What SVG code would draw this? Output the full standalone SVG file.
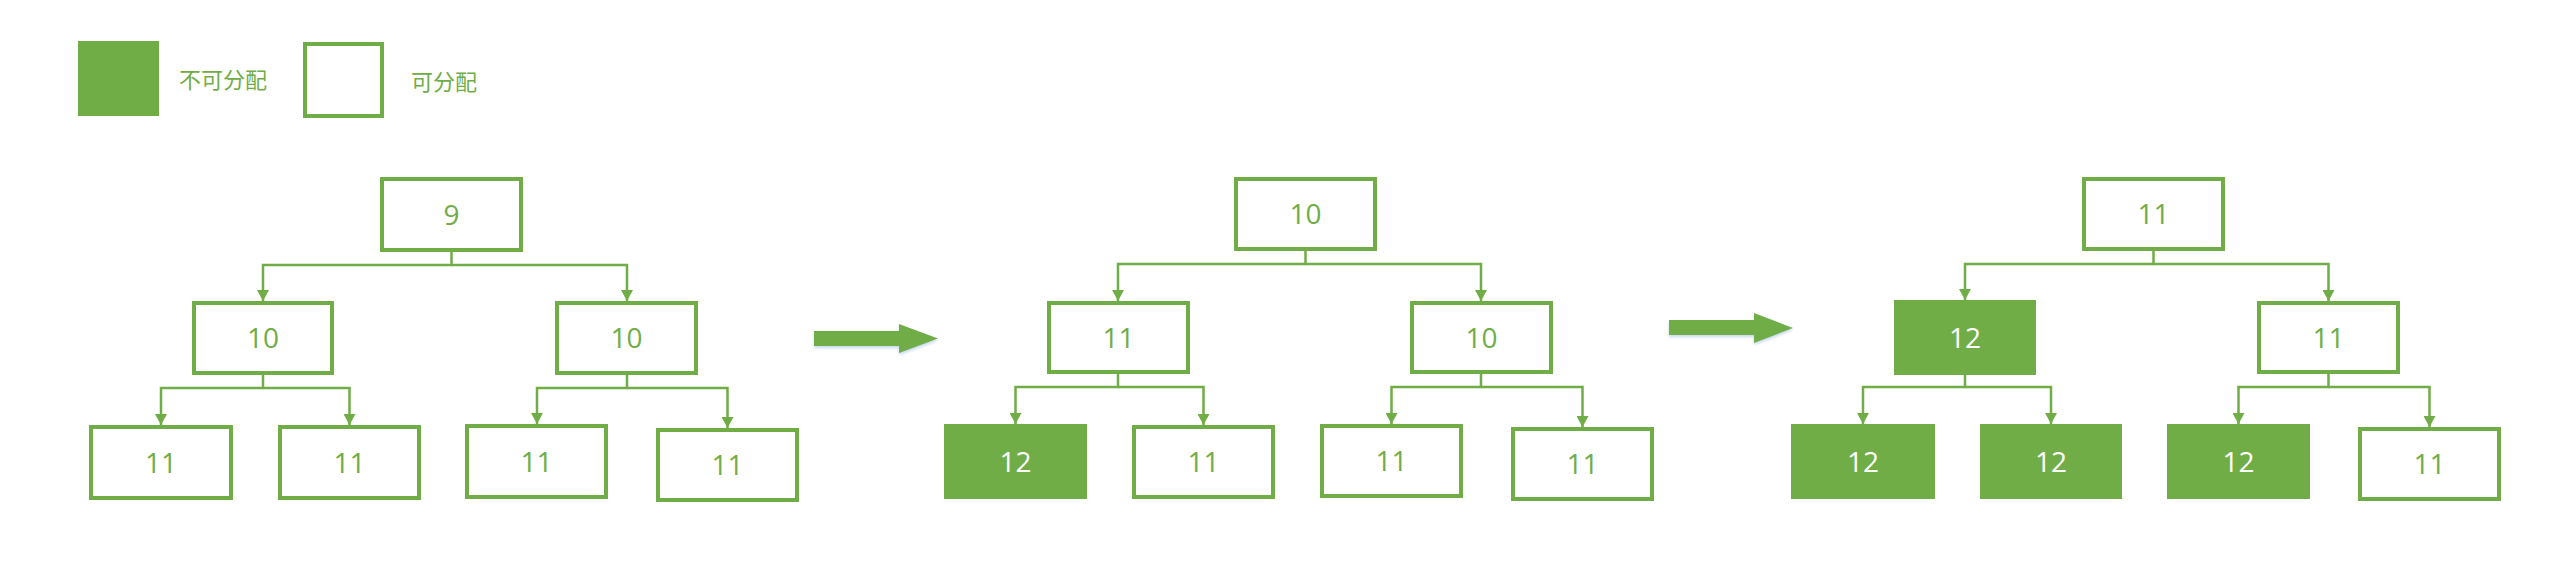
<svg xmlns="http://www.w3.org/2000/svg" width="2570" height="562" viewBox="0 0 2570 562">
<style>
.box{fill:#ffffff;stroke:#70AD47;stroke-width:4}
.fbox{fill:#70AD47;stroke:none}
.num{font-family:"Open Sans","Liberation Sans",sans-serif;font-size:28px;fill:#70AD47;text-anchor:middle}
.fnum{font-family:"Open Sans","Liberation Sans",sans-serif;font-size:28px;fill:#ffffff;text-anchor:middle}
.leg{font-family:"Noto Sans CJK SC","Noto Sans",sans-serif;font-size:22px;fill:#70AD47}
.con{fill:none;stroke:#70AD47;stroke-width:2.5;marker-end:url(#ah)}
.big{fill:#70AD47;filter:url(#sh)}
</style>
<defs>
<marker id="ah" markerUnits="userSpaceOnUse" markerWidth="12" markerHeight="12" refX="11" refY="6" orient="auto">
<path d="M0,0 L11,6 L0,12 z" fill="#70AD47"/>
</marker>
<filter id="sh" x="-10%" y="-30%" width="120%" height="180%">
<feDropShadow dx="0" dy="2" stdDeviation="1.5" flood-color="#8fb0d8" flood-opacity="0.5"/>
</filter>
</defs>

<g id="legend">
<rect x="78" y="41" width="81" height="75" class="fbox"/>
<text x="179" y="88" class="leg">不可分配</text>
<rect x="305" y="44" width="77" height="72" class="box"/>
<text x="411" y="90" class="leg">可分配</text>
</g>

<g id="connectors">
<!-- tree 1 -->
<path class="con" d="M451.5,252 V265 H263 V301"/>
<path class="con" d="M451.5,265 H627 V301"/>
<path class="con" d="M263,375 V388 H161 V425"/>
<path class="con" d="M263,388 H349.5 V425"/>
<path class="con" d="M627,375 V388 H537 V424"/>
<path class="con" d="M627,388 H727.5 V428"/>
<!-- tree 2 -->
<path class="con" d="M1305.5,251 V264 H1118 V301"/>
<path class="con" d="M1305.5,264 H1481 V301"/>
<path class="con" d="M1118,374 V387 H1015.5 V424"/>
<path class="con" d="M1118,387 H1203.5 V425"/>
<path class="con" d="M1481,374 V387 H1391.5 V424"/>
<path class="con" d="M1481,387 H1582.5 V427"/>
<!-- tree 3 -->
<path class="con" d="M2153.5,251 V264 H1965 V300"/>
<path class="con" d="M2153.5,264 H2328.5 V301"/>
<path class="con" d="M1965,375 V387 H1863 V424"/>
<path class="con" d="M1965,387 H2051 V424"/>
<path class="con" d="M2328.5,374 V387 H2238.5 V424"/>
<path class="con" d="M2328.5,387 H2429.5 V427"/>
</g>

<g id="arrow1"><path class="big" d="M814,331 H899 V324 L938,338.5 L899,353 V346 H814 z"/></g>
<g id="arrow2"><path class="big" d="M1669,320 H1754 V313 L1793,328 L1754,343 V335 H1669 z"/></g>

<!-- tree 1 -->
<g id="t1-root"><rect x="382" y="179" width="139" height="71" class="box"/><text x="451.5" y="224.5" class="num">9</text></g>
<g id="t1-l"><rect x="194" y="303" width="138" height="70" class="box"/><text x="263" y="348" class="num">10</text></g>
<g id="t1-r"><rect x="557" y="303" width="139" height="70" class="box"/><text x="626.5" y="348" class="num">10</text></g>
<g id="t1-ll"><rect x="91" y="427" width="140" height="71" class="box"/><text x="161" y="472.5" class="num">11</text></g>
<g id="t1-lr"><rect x="280" y="427" width="139" height="71" class="box"/><text x="349.5" y="472.5" class="num">11</text></g>
<g id="t1-rl"><rect x="467" y="426" width="139" height="71" class="box"/><text x="536.5" y="471.5" class="num">11</text></g>
<g id="t1-rr"><rect x="658" y="430" width="139" height="70" class="box"/><text x="727.5" y="475" class="num">11</text></g>

<!-- tree 2 -->
<g id="t2-root"><rect x="1236" y="179" width="139" height="70" class="box"/><text x="1305.5" y="224" class="num">10</text></g>
<g id="t2-l"><rect x="1049" y="303" width="139" height="69" class="box"/><text x="1118.5" y="347.5" class="num">11</text></g>
<g id="t2-r"><rect x="1412" y="303" width="139" height="69" class="box"/><text x="1481.5" y="347.5" class="num">10</text></g>
<g id="t2-ll"><rect x="944" y="424" width="143" height="75" class="fbox"/><text x="1015.5" y="471.5" class="fnum">12</text></g>
<g id="t2-lr"><rect x="1134" y="427" width="139" height="70" class="box"/><text x="1203.5" y="472" class="num">11</text></g>
<g id="t2-rl"><rect x="1322" y="426" width="139" height="70" class="box"/><text x="1391.5" y="471" class="num">11</text></g>
<g id="t2-rr"><rect x="1513" y="429" width="139" height="70" class="box"/><text x="1582.5" y="474" class="num">11</text></g>

<!-- tree 3 -->
<g id="t3-root"><rect x="2084" y="179" width="139" height="70" class="box"/><text x="2153.5" y="224" class="num">11</text></g>
<g id="t3-l"><rect x="1894" y="300" width="142" height="75" class="fbox"/><text x="1965" y="347.5" class="fnum">12</text></g>
<g id="t3-r"><rect x="2259" y="303" width="139" height="69" class="box"/><text x="2328.5" y="347.5" class="num">11</text></g>
<g id="t3-ll"><rect x="1791" y="424" width="144" height="75" class="fbox"/><text x="1863" y="471.5" class="fnum">12</text></g>
<g id="t3-lr"><rect x="1980" y="424" width="142" height="75" class="fbox"/><text x="2051" y="471.5" class="fnum">12</text></g>
<g id="t3-rl"><rect x="2167" y="424" width="143" height="75" class="fbox"/><text x="2238.5" y="471.5" class="fnum">12</text></g>
<g id="t3-rr"><rect x="2360" y="429" width="139" height="70" class="box"/><text x="2429.5" y="474" class="num">11</text></g>
</svg>
